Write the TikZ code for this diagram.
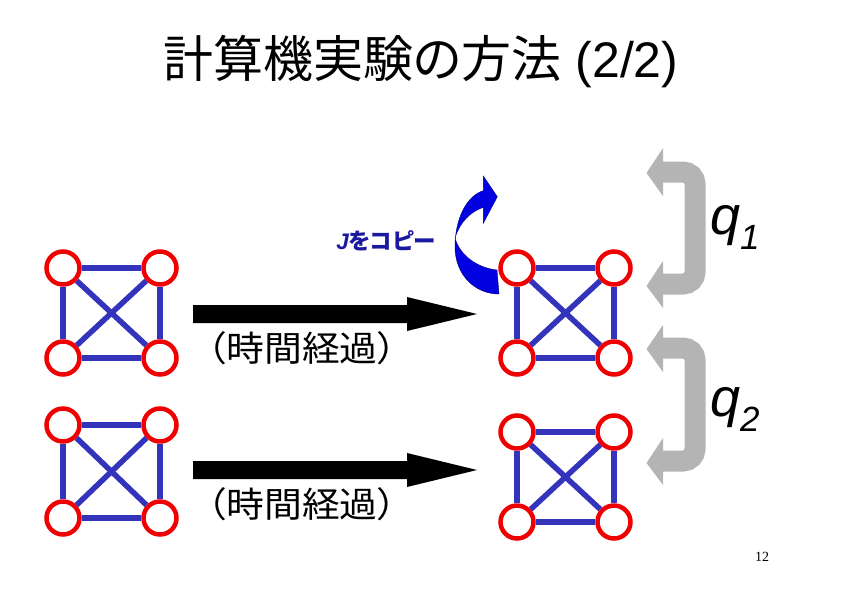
\documentclass[tikz,border=0pt]{standalone}
\usepackage{fontspec}
\setmainfont{Liberation Sans}
\newfontfamily\jp{Noto Sans CJK JP}[RawFeature=+palt]
\newfontfamily\jpwide{Noto Sans CJK JP}[RawFeature=+palt, FakeStretch=1.08]
\newfontfamily\serifnum{Liberation Serif}
\definecolor{nodered}{RGB}{240,0,0}
\definecolor{edgeblue}{RGB}{51,51,187}
\definecolor{txtblue}{RGB}{26,26,160}
\definecolor{arrblue}{RGB}{0,0,225}
\definecolor{arrgray}{RGB}{180,180,180}
\tikzset{
  vert/.style={circle, draw=nodered, fill=white, line width=4.5pt, minimum size=33pt, inner sep=0pt},
  edgeline/.style={draw=edgeblue, line width=5.5pt},
  blockarrow/.style={fill=black},
  swaparrow/.style={draw=arrgray, line width=21pt, rounded corners=12pt},
  swaphead/.style={fill=arrgray},
  timelabel/.style={inner sep=0pt, font=\jpwide\fontsize{35}{38}\selectfont},
  qlabel/.style={inner sep=0pt, anchor=base west}
}
\begin{document}
\begin{tikzpicture}[x=1pt,y=-1pt]
\useasboundingbox (0,0) rectangle (842,595);
% title
\node[inner sep=0pt] (title) at (421,62) {{\jp\fontsize{50}{54}\selectfont 計算機実験の方法}\fontsize{50}{54}\selectfont\ (2/2)};
% graphs
\foreach \g/\x/\y/\h in {a/63/268/90, b/63/425/93, c/517/268/90, d/517/432/90} {
  \node[vert] (\g1) at (\x,\y) {};
  \node[vert] (\g2) at ({\x+97},\y) {};
  \node[vert] (\g3) at (\x,{\y+\h}) {};
  \node[vert] (\g4) at ({\x+97},{\y+\h}) {};
  \draw[edgeline] (\g1) -- (\g2);
  \draw[edgeline] (\g3) -- (\g4);
  \draw[edgeline] (\g1) -- (\g3);
  \draw[edgeline] (\g2) -- (\g4);
  \draw[edgeline] (\g1) -- (\g4);
  \draw[edgeline] (\g2) -- (\g3);
}
% time arrows
\foreach \dy in {0,156} {
  \fill[blockarrow] (193,{305+\dy}) -- (407,{305+\dy}) -- (407,{297+\dy}) -- (477,{314+\dy})
     -- (407,{331+\dy}) -- (407,{323+\dy}) -- (193,{323+\dy}) -- cycle;
}
\node[timelabel] (t1) at (302,348) {（時間経過）};
\node[timelabel] (t2) at (302,504) {（時間経過）};
% copy J
\node[inner sep=0pt, text=txtblue, font=\fontsize{22.5}{26}\selectfont] (copyj) at (386,241) {{\bfseries\itshape J}{\jp\bfseries をコピー}};
\fill[arrblue, draw=arrblue!60!black, line width=0.4pt]
  (483.3,190.7) .. controls (466,196) and (455,220) .. (455,246.7)
  .. controls (455,275) and (475,294) .. (499,294) -- (497,270)
  .. controls (478,268) and (460,256) .. (455,238)
  .. controls (460,222) and (470,212) .. (483.3,207.3)
  -- (483.3,223.3) -- (497.3,196.7) -- (483.3,176) -- cycle;
% swap arrows
\draw[swaparrow] (662,172) -- (695,172) -- (695,284) -- (662,284);
\fill[swaphead] (663,148) -- (646.5,173) -- (663,196) -- cycle;
\fill[swaphead] (663,261) -- (646.5,286) -- (663,308) -- cycle;
\draw[swaparrow] (662,348) -- (695,348) -- (695,461) -- (662,461);
\fill[swaphead] (663,325) -- (646.5,349) -- (663,372) -- cycle;
\fill[swaphead] (663,438) -- (646.5,463) -- (663,485) -- cycle;
\node[qlabel] (q1) at (710,234) {{\fontsize{54}{54}\selectfont\itshape q}\raisebox{-15pt}{\fontsize{35}{35}\selectfont\itshape 1}};
\node[qlabel] (q2) at (710,416) {{\fontsize{54}{54}\selectfont\itshape q}\raisebox{-15pt}{\fontsize{35}{35}\selectfont\itshape 2}};
% page number
\node[inner sep=0pt, font=\serifnum\fontsize{14}{16}\selectfont] (pg) at (762,557) {12};
\end{tikzpicture}
\end{document}
